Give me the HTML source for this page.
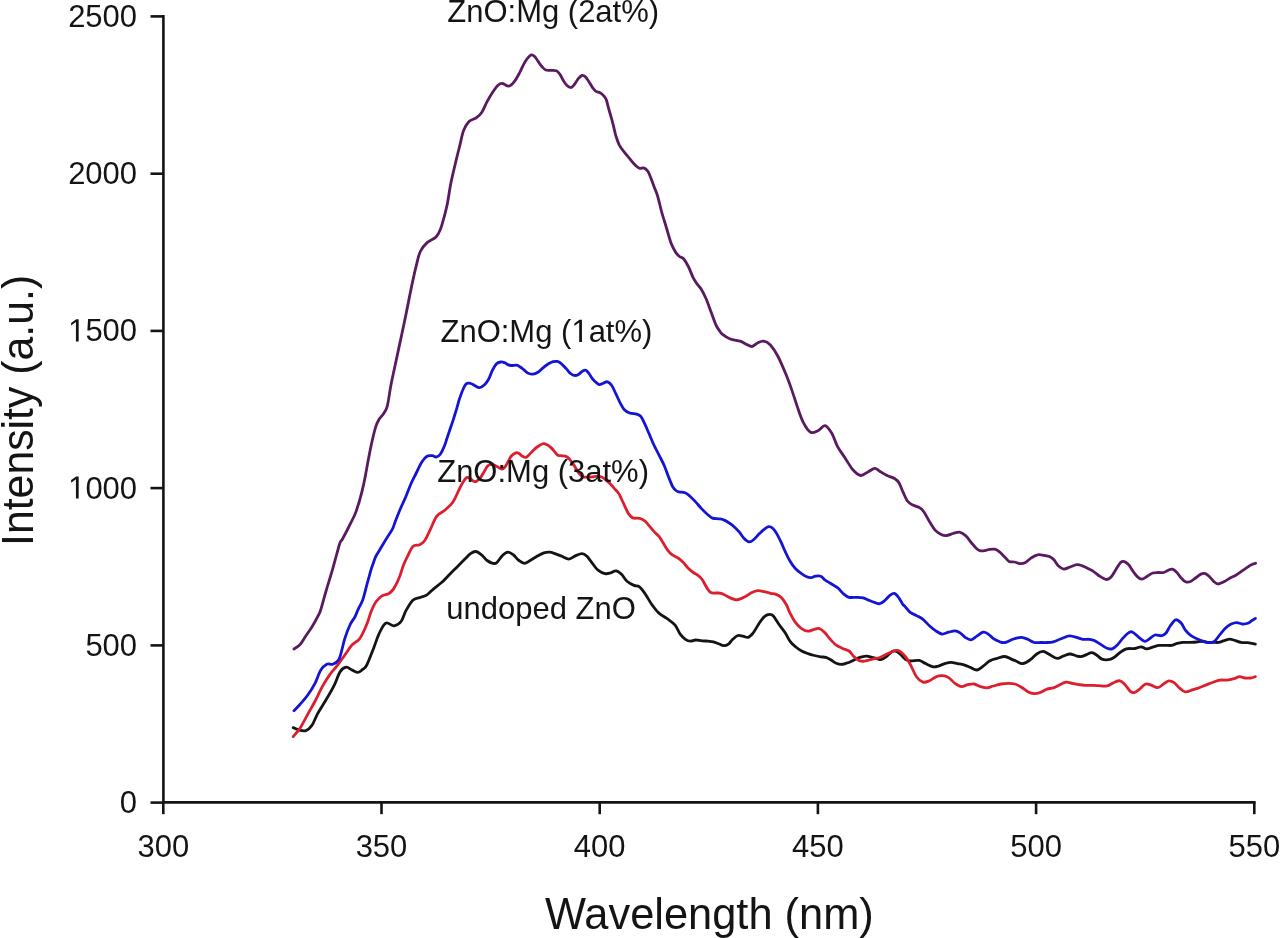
<!DOCTYPE html><html><head><meta charset="utf-8"><style>html,body{margin:0;padding:0;background:#fff;}svg{display:block;filter:blur(0.75px);}text{font-family:"Liberation Sans",sans-serif;fill:#141414;}</style></head><body>
<svg width="1280" height="938" viewBox="0 0 1280 938">
<rect width="1280" height="938" fill="#fff"/>
<g stroke="#141414" stroke-width="2.6" fill="none" stroke-linecap="butt">
<path d="M163.4 15.1V803.7M162.1 802.4H1255.6"/>
<path d="M150.5 16.4H163.4"/>
<path d="M150.5 173.7H163.4"/>
<path d="M150.5 330.9H163.4"/>
<path d="M150.5 488.1H163.4"/>
<path d="M150.5 645.4H163.4"/>
<path d="M150.5 802.6H163.4"/>
<path d="M163.3 802.4V814.2"/>
<path d="M381.5 802.4V814.2"/>
<path d="M599.7 802.4V814.2"/>
<path d="M817.9 802.4V814.2"/>
<path d="M1036.1 802.4V814.2"/>
<path d="M1254.3 802.4V814.2"/>
</g>
<text transform="translate(68.14 26.90) scale(1 1.035)" font-size="31.0" xml:space="preserve">2500</text>
<text transform="translate(68.14 184.20) scale(1 1.035)" font-size="31.0" xml:space="preserve">2000</text>
<path transform="translate(68.14 341.40) scale(0.01514 -0.01567)" d="M515 0L515 1237L197 1010L197 1180L530 1409L696 1409L696 0Z" fill="#141414"/><text transform="translate(85.38 341.40) scale(1 1.035)" font-size="31.0" xml:space="preserve">500</text>
<path transform="translate(68.14 498.60) scale(0.01514 -0.01567)" d="M515 0L515 1237L197 1010L197 1180L530 1409L696 1409L696 0Z" fill="#141414"/><text transform="translate(85.38 498.60) scale(1 1.035)" font-size="31.0" xml:space="preserve">000</text>
<text transform="translate(85.38 655.90) scale(1 1.035)" font-size="31.0" xml:space="preserve">500</text>
<text transform="translate(119.86 813.10) scale(1 1.035)" font-size="31.0" xml:space="preserve">0</text>
<text transform="translate(137.44 857.20) scale(1 1.035)" font-size="31.0" xml:space="preserve">300</text>
<text transform="translate(355.64 857.20) scale(1 1.035)" font-size="31.0" xml:space="preserve">350</text>
<text transform="translate(573.84 857.20) scale(1 1.035)" font-size="31.0" xml:space="preserve">400</text>
<text transform="translate(792.04 857.20) scale(1 1.035)" font-size="31.0" xml:space="preserve">450</text>
<text transform="translate(1010.24 857.20) scale(1 1.035)" font-size="31.0" xml:space="preserve">500</text>
<text transform="translate(1228.44 857.20) scale(1 1.035)" font-size="31.0" xml:space="preserve">550</text>
<path d="M293.2 727.6C294.1 728.0 296.3 729.4 298.4 729.9C300.5 730.4 303.6 731.4 305.9 730.6C308.1 729.9 309.9 728.3 311.9 725.4C313.9 722.5 315.3 717.9 317.8 713.4C320.3 708.9 324.1 703.2 326.8 698.5C329.6 693.8 332.1 689.6 334.3 685.1C336.5 680.6 338.2 674.6 340.2 671.6C342.2 668.6 344.2 667.5 346.2 667.2C348.2 667.0 350.2 669.2 352.2 670.1C354.2 671.0 356.4 672.5 358.1 672.4C359.8 672.3 361.2 670.6 362.6 669.4C364.1 668.2 365.0 668.6 366.8 665.0C368.6 661.4 371.7 653.1 373.7 648.0C375.7 642.9 376.8 638.4 378.8 634.3C380.8 630.2 383.1 624.6 385.6 623.2C388.2 621.8 391.5 626.1 394.1 625.8C396.7 625.5 399.0 624.1 401.0 621.5C403.0 618.9 404.1 613.9 406.1 610.4C408.1 606.9 410.6 602.3 412.9 600.2C415.2 598.1 417.4 598.5 419.7 597.6C422.0 596.8 424.3 596.5 426.6 595.1C428.9 593.7 430.8 591.2 433.4 589.1C435.9 587.0 439.4 584.5 441.9 582.3C444.4 580.1 445.9 578.2 448.3 575.7C450.8 573.2 453.8 570.2 456.6 567.4C459.4 564.6 462.6 561.4 464.9 559.1C467.2 556.8 468.6 554.9 470.5 553.6C472.4 552.3 474.1 551.3 476.0 551.5C477.9 551.7 479.8 553.4 481.6 554.9C483.5 556.4 485.2 559.1 487.1 560.5C489.0 561.9 491.1 562.9 492.7 563.3C494.3 563.6 495.2 563.9 496.8 562.6C498.4 561.3 500.5 557.3 502.4 555.6C504.2 553.9 506.1 552.3 507.9 552.2C509.7 552.1 511.5 553.5 513.4 554.9C515.2 556.3 517.1 559.1 519.0 560.5C520.9 561.9 522.6 563.3 524.5 563.3C526.4 563.3 528.0 561.7 530.1 560.5C532.2 559.3 534.7 557.6 537.0 556.3C539.3 555.0 541.8 553.6 543.9 552.9C546.0 552.2 547.6 552.1 549.5 552.2C551.4 552.3 552.9 552.9 555.0 553.6C557.1 554.3 559.6 555.4 561.9 556.3C564.2 557.2 566.6 559.2 568.9 559.1C571.2 559.0 573.6 556.5 575.8 555.6C578.0 554.7 580.1 553.5 582.0 553.6C583.9 553.7 585.2 554.7 586.9 556.3C588.6 557.9 590.5 561.0 592.4 563.3C594.2 565.6 595.9 568.5 598.0 570.2C600.1 571.9 602.8 573.1 604.9 573.6C607.0 574.1 608.5 573.5 610.4 573.0C612.2 572.5 614.1 570.7 616.0 570.9C617.9 571.1 619.7 572.6 621.5 574.3C623.3 576.0 624.9 579.4 627.0 581.3C629.1 583.1 631.9 584.5 634.0 585.4C636.1 586.3 637.6 585.4 639.5 586.8C641.4 588.2 643.0 590.7 645.1 593.7C647.2 596.7 649.7 601.6 652.0 604.8C654.3 608.0 656.4 610.8 658.9 613.1C661.4 615.4 664.5 616.7 667.2 618.7C669.9 620.7 672.9 622.6 675.1 625.2C677.3 627.8 678.5 631.9 680.2 634.2C681.9 636.6 683.7 638.1 685.4 639.3C687.1 640.5 688.8 641.1 690.5 641.2C692.2 641.3 693.7 640.1 695.6 640.0C697.5 639.9 699.9 640.6 702.0 640.8C704.1 641.0 706.5 641.0 708.4 641.2C710.3 641.4 711.8 641.5 713.5 641.9C715.2 642.3 716.9 643.2 718.6 643.8C720.3 644.4 722.0 645.7 723.7 645.7C725.4 645.7 727.3 644.9 728.8 643.8C730.3 642.7 731.2 640.7 732.7 639.3C734.2 637.9 736.1 636.0 737.8 635.5C739.5 635.0 741.2 635.8 742.9 636.1C744.6 636.4 746.3 637.9 748.0 637.4C749.7 636.9 751.3 635.3 753.2 632.9C755.1 630.5 757.6 625.5 759.5 622.7C761.4 619.9 763.0 617.7 764.7 616.3C766.4 614.9 768.3 614.4 769.8 614.4C771.3 614.4 772.1 614.7 773.6 616.3C775.1 617.9 776.8 621.3 778.7 624.0C780.6 626.7 783.1 629.6 785.0 632.5C786.9 635.4 788.4 639.1 790.1 641.4C791.8 643.7 793.3 644.9 795.2 646.5C797.1 648.1 799.5 649.8 801.6 651.0C803.7 652.2 805.9 652.9 808.0 653.6C810.1 654.4 812.3 655.0 814.4 655.5C816.5 656.0 818.9 656.5 820.8 656.8C822.7 657.1 824.2 656.9 825.9 657.4C827.6 657.9 829.4 659.0 831.1 660.0C832.8 661.0 834.5 662.5 836.2 663.2C837.9 663.9 839.6 664.4 841.3 664.4C843.0 664.4 844.7 663.7 846.4 663.2C848.1 662.7 849.8 662.0 851.5 661.2C853.2 660.5 854.9 659.4 856.6 658.7C858.3 658.0 860.1 657.2 861.8 656.8C863.5 656.4 865.2 656.0 866.9 656.1C868.6 656.2 870.3 657.0 872.0 657.4C873.7 657.8 875.6 658.3 877.1 658.7C878.6 659.1 879.4 659.9 880.9 659.6C882.4 659.3 884.4 658.0 886.1 656.8C887.8 655.6 889.7 653.3 891.2 652.3C892.7 651.3 893.5 650.7 895.0 651.0C896.5 651.3 898.3 652.6 900.0 654.0C901.7 655.4 903.4 657.9 905.1 659.1C906.8 660.3 907.9 660.8 910.2 661.0C912.6 661.2 916.6 660.0 919.2 660.4C921.8 660.8 923.2 662.5 925.6 663.6C928.0 664.7 931.2 666.4 933.3 666.8C935.4 667.2 936.5 666.6 938.4 666.1C940.3 665.6 942.7 664.2 944.8 663.6C946.9 663.0 949.1 662.3 951.2 662.3C953.3 662.3 955.5 663.2 957.6 663.6C959.7 664.0 961.9 664.2 964.0 664.8C966.1 665.4 968.3 666.5 970.4 667.4C972.5 668.3 974.7 670.2 976.8 670.0C978.9 669.8 981.1 667.6 983.2 666.1C985.3 664.6 987.2 662.3 989.5 661.0C991.8 659.7 994.6 659.1 997.2 658.4C999.8 657.6 1002.5 656.4 1004.9 656.5C1007.2 656.6 1009.4 658.4 1011.3 659.1C1013.1 659.9 1014.1 660.2 1016.0 661.0C1017.9 661.8 1020.3 663.8 1022.7 663.6C1025.1 663.4 1028.1 661.3 1030.4 659.7C1032.7 658.1 1034.6 655.4 1036.7 654.0C1038.8 652.6 1041.0 651.3 1043.1 651.4C1045.2 651.5 1047.2 653.4 1049.5 654.6C1051.8 655.8 1054.9 658.2 1057.2 658.4C1059.5 658.6 1061.5 656.6 1063.6 655.9C1065.7 655.2 1067.9 654.0 1070.0 654.0C1072.1 654.0 1074.5 655.5 1076.4 655.9C1078.3 656.3 1079.8 656.7 1081.5 656.5C1083.2 656.3 1084.9 655.2 1086.6 654.6C1088.3 654.0 1090.1 652.6 1091.8 652.7C1093.5 652.8 1095.2 654.1 1096.9 655.2C1098.6 656.3 1100.1 658.4 1102.0 659.1C1103.9 659.9 1106.5 659.9 1108.4 659.7C1110.3 659.5 1111.6 659.0 1113.5 657.8C1115.4 656.6 1117.8 654.2 1119.9 652.7C1122.0 651.2 1123.8 649.5 1126.3 648.8C1128.8 648.1 1132.5 648.8 1135.0 648.5C1137.5 648.2 1139.2 646.7 1141.1 646.8C1143.0 646.9 1144.5 648.9 1146.6 648.9C1148.7 648.9 1151.5 647.4 1153.6 646.8C1155.7 646.2 1157.0 645.6 1159.1 645.4C1161.2 645.2 1163.9 645.4 1166.0 645.4C1168.1 645.4 1169.8 645.7 1171.6 645.4C1173.4 645.1 1175.2 643.9 1177.1 643.4C1178.9 642.9 1180.6 642.6 1182.7 642.4C1184.8 642.2 1187.3 642.5 1189.6 642.4C1191.9 642.3 1194.4 642.2 1196.5 642.0C1198.6 641.8 1200.2 641.2 1202.1 641.3C1203.9 641.4 1205.8 642.2 1207.6 642.4C1209.4 642.6 1211.3 642.4 1213.2 642.4C1215.1 642.4 1216.9 642.7 1218.7 642.4C1220.5 642.1 1222.4 641.1 1224.2 640.6C1226.0 640.1 1228.0 639.2 1229.8 639.2C1231.6 639.2 1233.4 640.1 1235.3 640.6C1237.2 641.1 1238.8 642.0 1240.9 642.4C1243.0 642.8 1246.0 642.5 1247.8 642.7C1249.6 642.9 1250.7 643.2 1252.0 643.4C1253.3 643.6 1254.8 644.0 1255.4 644.1" fill="none" stroke="#141414" stroke-width="2.8" stroke-linejoin="round" stroke-linecap="round"/>
<path d="M293.2 736.6C294.3 735.2 297.5 732.0 299.9 728.4C302.3 724.8 304.9 719.4 307.4 714.9C309.9 710.4 312.4 706.2 314.9 701.5C317.4 696.8 319.8 691.1 322.3 686.6C324.8 682.1 327.3 678.1 329.8 674.6C332.3 671.1 334.7 668.9 337.2 665.7C339.7 662.5 342.2 658.7 344.7 655.2C347.2 651.7 349.7 647.5 352.2 644.8C354.7 642.1 357.2 642.2 359.6 638.8C362.0 635.4 364.8 629.1 366.7 624.5C368.6 619.9 369.8 614.9 371.3 611.1C372.9 607.3 374.2 604.3 376.0 601.8C377.8 599.3 379.8 597.3 381.9 595.9C384.0 594.5 386.9 594.7 388.9 593.5C390.8 592.3 391.8 591.6 393.6 588.9C395.4 586.2 397.9 581.1 399.5 577.1C401.1 573.1 402.1 568.5 403.5 565.0C404.9 561.5 406.2 558.9 407.8 555.8C409.4 552.7 410.9 548.4 412.9 546.5C414.9 544.6 417.7 545.7 419.7 544.7C421.7 543.7 423.1 542.9 424.8 540.5C426.5 538.1 428.0 534.2 430.0 530.2C432.0 526.2 434.2 519.7 436.6 516.4C439.1 513.1 442.0 512.7 444.7 510.3C447.4 507.9 450.4 505.6 452.8 502.2C455.2 498.8 457.3 493.2 458.9 490.0C460.5 486.8 461.2 485.1 462.5 483.0C463.8 480.9 465.4 478.2 466.7 477.5C468.0 476.8 469.2 478.1 470.5 478.8C471.8 479.5 473.1 481.8 474.7 481.7C476.2 481.6 478.2 480.0 479.8 478.4C481.4 476.8 482.7 474.1 484.0 472.0C485.3 469.9 486.4 467.1 487.8 465.8C489.2 464.5 491.0 464.3 492.5 464.4C494.0 464.5 495.4 465.7 497.0 466.5C498.6 467.3 500.6 469.1 501.9 469.2C503.2 469.3 503.9 468.3 505.0 467.0C506.1 465.7 507.2 463.1 508.3 461.2C509.4 459.3 510.3 457.2 511.6 455.8C512.9 454.4 514.6 453.2 515.9 452.8C517.2 452.4 518.1 453.0 519.2 453.6C520.3 454.2 521.4 455.7 522.5 456.3C523.6 456.9 524.7 457.7 525.8 457.4C526.9 457.1 527.8 455.9 529.1 454.7C530.4 453.5 532.0 451.7 533.4 450.3C534.8 448.9 536.1 447.6 537.8 446.5C539.4 445.4 541.7 443.9 543.3 443.7C544.9 443.5 546.2 444.4 547.6 445.1C549.0 445.8 550.2 446.9 551.5 448.1C552.8 449.3 554.2 451.3 555.3 452.5C556.4 453.7 556.8 454.6 558.0 455.2C559.2 455.8 561.0 455.6 562.4 455.8C563.8 456.0 565.0 455.9 566.2 456.5C567.4 457.1 568.5 458.1 569.5 459.1C570.5 460.2 571.3 461.6 572.2 462.8C573.1 464.0 573.7 464.7 574.8 466.4C575.9 468.1 577.4 471.3 578.7 473.0C580.0 474.7 581.1 476.1 582.5 476.8C583.9 477.5 585.3 477.1 586.9 477.1C588.5 477.1 590.5 477.0 592.3 476.8C594.1 476.6 596.1 476.1 597.8 476.2C599.4 476.3 600.7 476.6 602.2 477.3C603.7 478.0 605.2 479.5 606.6 480.6C608.0 481.7 609.1 482.6 610.4 483.9C611.7 485.2 612.8 486.8 614.2 488.3C615.6 489.9 617.4 491.3 618.6 493.2C619.9 495.1 620.6 497.2 621.7 499.5C622.8 501.8 624.0 504.4 625.1 506.8C626.2 509.2 627.2 511.8 628.5 513.6C629.8 515.5 630.9 517.1 632.8 517.9C634.6 518.7 637.6 517.8 639.6 518.3C641.6 518.8 643.1 519.7 644.7 520.9C646.3 522.1 647.4 523.8 649.0 525.6C650.6 527.4 652.4 529.8 654.1 531.6C655.8 533.5 657.6 534.7 659.2 536.7C660.8 538.7 662.1 541.2 663.5 543.5C664.9 545.8 666.4 548.4 667.8 550.3C669.2 552.1 670.3 553.3 672.0 554.6C673.7 555.9 676.1 556.7 678.0 558.0C679.9 559.3 681.4 560.6 683.1 562.3C684.8 564.0 686.5 566.5 688.2 568.2C689.9 569.9 691.8 571.4 693.3 572.5C694.8 573.6 696.0 573.9 697.5 575.0C699.0 576.1 700.4 577.0 702.0 579.2C703.6 581.4 705.6 585.9 707.1 588.1C708.6 590.3 709.4 591.8 710.9 592.6C712.4 593.4 714.4 592.9 716.1 593.0C717.8 593.1 719.5 592.8 721.2 593.3C722.9 593.8 724.6 594.9 726.3 595.8C728.0 596.6 729.7 597.7 731.4 598.4C733.1 599.1 734.8 599.9 736.5 599.9C738.2 599.9 739.9 599.1 741.6 598.4C743.3 597.7 745.2 596.7 746.8 595.8C748.4 594.9 749.6 593.7 751.4 592.8C753.2 591.9 755.7 590.8 757.8 590.6C759.9 590.4 762.1 591.2 764.2 591.7C766.3 592.2 768.7 592.8 770.6 593.3C772.5 593.8 774.1 593.7 775.9 594.4C777.7 595.1 779.5 595.8 781.3 597.5C783.0 599.2 784.9 602.2 786.4 604.8C787.9 607.4 788.6 610.4 790.1 613.3C791.6 616.2 793.3 619.7 795.2 622.2C797.1 624.8 799.5 627.1 801.6 628.6C803.7 630.1 805.9 631.1 808.0 631.2C810.1 631.3 812.5 629.7 814.4 629.3C816.3 628.9 817.8 628.1 819.5 628.6C821.2 629.1 823.0 630.8 824.7 632.5C826.4 634.2 827.9 636.7 829.8 638.8C831.7 640.9 834.1 643.6 836.2 645.2C838.3 646.8 840.5 647.4 842.6 648.4C844.7 649.4 847.1 649.6 849.0 651.0C850.9 652.4 852.4 655.2 854.1 656.8C855.8 658.4 857.5 659.9 859.2 660.6C860.9 661.3 862.6 661.3 864.3 661.2C866.0 661.1 867.7 660.4 869.4 660.0C871.1 659.6 872.7 659.1 874.5 658.7C876.3 658.3 877.8 658.4 880.0 657.5C882.2 656.6 885.3 654.7 888.0 653.5C890.7 652.3 894.3 650.8 896.3 650.4C898.3 650.0 898.3 650.2 900.0 651.4C901.7 652.6 904.5 655.2 906.4 657.8C908.3 660.4 909.8 663.6 911.5 666.8C913.2 670.0 914.7 674.5 916.6 677.0C918.5 679.5 920.9 681.5 923.0 682.1C925.1 682.7 927.3 681.6 929.4 680.8C931.5 679.9 933.7 677.9 935.8 677.0C937.9 676.1 940.1 675.6 942.2 675.7C944.3 675.8 946.5 676.3 948.6 677.6C950.7 678.9 952.9 681.9 955.0 683.4C957.1 684.9 959.3 686.4 961.4 686.6C963.5 686.8 965.7 685.1 967.8 684.7C969.9 684.3 972.1 683.7 974.2 684.0C976.3 684.3 978.5 686.0 980.6 686.6C982.7 687.2 984.9 688.0 987.0 687.9C989.1 687.8 991.0 686.6 993.4 686.0C995.8 685.4 998.5 684.4 1001.1 684.0C1003.7 683.6 1006.4 683.4 1008.7 683.4C1011.0 683.4 1013.0 683.4 1015.1 684.0C1017.2 684.6 1019.3 685.9 1021.4 687.2C1023.5 688.5 1025.7 690.6 1027.8 691.7C1029.9 692.8 1032.1 693.5 1034.2 693.6C1036.3 693.7 1038.5 693.0 1040.6 692.3C1042.7 691.5 1044.9 689.8 1047.0 689.1C1049.1 688.4 1051.3 688.6 1053.4 687.9C1055.5 687.2 1057.7 685.7 1059.8 684.7C1061.9 683.7 1064.1 682.3 1066.2 682.1C1068.3 681.9 1070.5 683.0 1072.6 683.4C1074.7 683.8 1076.9 684.4 1079.0 684.7C1081.1 685.0 1083.3 685.2 1085.4 685.3C1087.5 685.4 1089.7 685.2 1091.8 685.3C1093.9 685.4 1095.7 685.6 1098.2 685.7C1100.8 685.8 1104.5 686.4 1107.1 685.9C1109.6 685.4 1111.4 683.6 1113.5 682.7C1115.6 681.9 1118.0 680.5 1119.9 680.8C1121.8 681.1 1123.3 683.0 1125.0 684.7C1126.7 686.4 1128.6 689.8 1130.1 691.1C1131.6 692.4 1132.6 692.9 1134.2 692.6C1135.8 692.3 1137.9 690.5 1139.7 689.1C1141.5 687.7 1143.4 684.9 1145.2 684.2C1147.0 683.5 1148.7 684.3 1150.8 684.9C1152.9 685.5 1155.6 687.8 1157.7 687.7C1159.8 687.6 1161.5 685.4 1163.3 684.2C1165.1 683.1 1166.9 681.0 1168.8 680.8C1170.7 680.6 1172.6 681.6 1174.4 682.9C1176.2 684.2 1178.1 686.9 1179.9 688.4C1181.7 689.9 1183.3 691.7 1185.4 691.9C1187.5 692.1 1190.1 690.5 1192.4 689.8C1194.7 689.1 1197.0 688.5 1199.3 687.7C1201.6 686.9 1203.9 685.8 1206.2 684.9C1208.5 684.0 1210.9 683.0 1213.2 682.2C1215.5 681.4 1217.8 680.5 1220.1 680.1C1222.4 679.8 1224.7 680.3 1227.0 680.1C1229.3 679.9 1231.9 679.3 1234.0 678.7C1236.1 678.1 1237.7 676.7 1239.5 676.6C1241.3 676.5 1243.2 677.8 1245.0 678.0C1246.8 678.2 1248.9 678.2 1250.6 678.0C1252.3 677.8 1254.6 676.8 1255.4 676.6" fill="none" stroke="#dc1e2d" stroke-width="2.8" stroke-linejoin="round" stroke-linecap="round"/>
<path d="M294.0 710.7C295.0 709.7 297.7 707.0 299.9 704.5C302.1 702.0 304.9 699.0 307.4 695.5C309.9 692.0 312.7 687.8 314.9 683.6C317.1 679.4 318.8 673.3 320.8 670.1C322.8 666.9 324.8 665.2 326.8 664.2C328.8 663.2 330.8 665.0 332.8 664.2C334.8 663.5 337.2 662.0 338.7 659.7C340.2 657.5 340.7 654.2 341.7 650.7C342.7 647.2 343.3 643.2 344.7 638.8C346.1 634.4 348.5 628.1 350.2 624.5C351.9 620.9 353.5 619.6 354.9 617.0C356.3 614.4 357.2 611.3 358.4 608.8C359.6 606.3 361.0 604.1 362.0 601.8C363.0 599.4 363.5 597.5 364.3 594.7C365.1 592.0 365.9 588.2 366.7 585.3C367.5 582.4 368.2 579.8 369.0 577.1C369.8 574.4 370.5 571.4 371.3 568.9C372.1 566.4 372.9 564.0 373.7 561.9C374.5 559.8 375.0 558.0 376.0 556.0C377.0 554.0 377.7 553.1 379.5 550.2C381.3 547.3 384.5 541.9 386.6 538.4C388.8 534.9 391.0 531.8 392.4 529.1C393.8 526.4 393.7 525.6 395.0 522.3C396.3 518.9 398.5 513.2 400.3 509.0C402.1 504.8 403.9 501.2 405.7 497.0C407.5 492.8 409.2 487.7 411.0 483.7C412.8 479.7 414.5 476.6 416.3 473.0C418.1 469.4 419.9 465.1 421.7 462.3C423.5 459.5 425.2 457.4 427.0 456.3C428.8 455.2 430.8 455.6 432.3 455.7C433.9 455.8 435.0 457.2 436.3 457.0C437.6 456.8 439.0 456.1 440.3 454.3C441.6 452.5 443.2 449.0 444.3 446.3C445.4 443.6 446.1 441.0 447.0 438.3C447.9 435.6 448.6 433.6 449.7 430.3C450.8 427.0 452.5 422.1 453.7 418.3C454.9 414.5 456.1 410.8 457.0 407.7C457.9 404.6 458.2 402.8 459.2 399.8C460.2 396.8 461.8 392.2 463.0 389.5C464.2 386.8 464.9 384.8 466.2 383.8C467.5 382.8 469.3 383.2 470.7 383.5C472.1 383.8 473.0 384.7 474.5 385.4C476.0 386.1 477.9 387.8 479.6 387.6C481.3 387.4 483.3 385.8 484.8 384.4C486.3 383.0 487.3 381.6 488.6 379.3C489.9 377.0 491.1 372.9 492.4 370.3C493.7 367.8 494.9 365.4 496.3 364.0C497.7 362.6 499.3 362.2 500.7 362.0C502.1 361.8 503.4 362.3 504.6 362.7C505.8 363.1 506.6 364.1 507.8 364.6C509.0 365.1 510.1 365.4 511.6 365.5C513.1 365.6 515.3 364.9 516.7 365.2C518.1 365.4 519.0 366.2 520.2 367.0C521.4 367.8 522.5 368.7 523.8 369.7C525.0 370.7 526.2 372.1 527.7 372.9C529.2 373.6 531.1 374.3 532.8 374.2C534.5 374.1 536.2 373.4 537.9 372.3C539.6 371.2 541.3 369.2 543.0 367.8C544.7 366.4 546.4 365.0 548.1 364.0C549.8 363.0 551.7 362.1 553.2 361.7C554.7 361.3 555.8 361.1 557.1 361.4C558.4 361.7 559.4 362.1 560.9 363.3C562.4 364.5 564.4 366.7 566.0 368.4C567.6 370.1 569.0 372.3 570.5 373.5C572.0 374.7 573.6 375.4 575.0 375.5C576.4 375.6 577.5 374.9 578.8 374.2C580.1 373.4 581.5 371.6 582.7 371.0C583.9 370.4 584.9 369.9 585.9 370.3C586.9 370.7 587.9 372.1 589.0 373.5C590.1 374.9 591.3 377.4 592.3 378.7C593.3 380.0 593.9 380.5 595.0 381.5C596.1 382.5 597.8 384.3 599.2 384.6C600.6 384.9 601.9 383.7 603.3 383.2C604.7 382.7 606.1 381.4 607.5 381.8C608.9 382.2 610.2 383.3 611.6 385.3C613.0 387.3 614.4 390.7 615.8 393.6C617.2 396.5 618.6 400.0 620.0 402.6C621.4 405.2 622.5 407.8 624.1 409.5C625.7 411.2 627.6 412.2 629.7 413.0C631.8 413.8 634.8 413.5 636.6 414.1C638.5 414.7 639.4 414.7 640.8 416.4C642.2 418.1 643.5 421.2 644.9 424.1C646.3 427.0 647.7 430.6 649.1 433.8C650.5 437.0 651.6 440.0 653.2 443.5C654.8 447.0 656.9 450.9 658.8 454.6C660.6 458.3 662.7 462.0 664.3 465.7C665.9 469.4 667.1 473.3 668.5 476.8C669.9 480.3 671.4 484.2 672.6 486.5C673.9 488.8 674.9 489.6 676.0 490.5C677.1 491.4 677.5 491.5 679.0 491.9C680.5 492.3 683.2 492.1 684.9 492.7C686.6 493.3 687.6 494.2 689.4 495.7C691.1 497.2 693.4 499.5 695.4 501.6C697.4 503.7 699.3 506.3 701.3 508.4C703.3 510.5 705.4 512.7 707.3 514.3C709.2 515.9 710.6 517.4 712.5 518.1C714.4 518.9 716.6 518.5 718.5 518.8C720.4 519.1 721.8 519.1 723.7 519.9C725.6 520.6 727.8 522.0 729.7 523.3C731.6 524.5 733.3 525.9 734.9 527.4C736.5 528.9 737.9 530.4 739.4 532.2C740.9 534.0 742.3 536.6 743.9 538.2C745.5 539.8 747.5 541.6 749.1 541.9C750.7 542.1 751.9 541.1 753.6 539.7C755.3 538.3 757.7 535.2 759.5 533.5C761.3 531.8 762.7 530.4 764.2 529.3C765.7 528.2 767.1 526.9 768.5 526.7C769.9 526.5 771.3 527.1 772.7 528.3C774.1 529.5 775.6 531.7 777.0 534.1C778.4 536.5 779.9 539.7 781.3 542.7C782.7 545.7 784.1 549.2 785.5 552.2C786.9 555.2 788.2 558.1 789.8 560.8C791.4 563.5 793.1 566.1 795.1 568.2C797.1 570.3 799.5 572.2 801.5 573.6C803.5 575.0 805.2 576.1 806.8 576.8C808.4 577.5 809.7 577.7 811.1 577.6C812.5 577.5 813.8 576.4 815.4 576.2C817.0 576.0 819.1 575.6 820.7 576.2C822.3 576.8 823.4 578.8 825.0 580.0C826.6 581.2 828.2 581.9 830.3 583.2C832.4 584.5 835.2 585.9 837.5 587.7C839.8 589.5 841.9 592.5 843.8 594.1C845.7 595.7 846.9 596.8 849.0 597.3C851.1 597.8 854.3 597.2 856.6 597.3C858.9 597.4 860.9 597.4 863.0 597.9C865.1 598.4 867.5 599.8 869.4 600.5C871.3 601.2 872.8 601.9 874.5 602.4C876.2 602.9 878.0 604.0 879.7 603.7C881.4 603.4 883.1 601.9 884.8 600.5C886.5 599.1 888.3 596.6 889.9 595.4C891.5 594.2 892.9 593.0 894.4 593.4C895.9 593.8 897.5 596.1 898.9 597.9C900.3 599.7 901.7 602.8 902.7 604.3C903.7 605.8 903.9 605.2 905.1 606.6C906.4 608.0 908.3 610.9 910.2 612.4C912.1 613.9 914.5 614.4 916.6 615.6C918.7 616.8 920.9 617.7 923.0 619.4C925.1 621.1 927.3 623.9 929.4 625.8C931.5 627.7 933.7 629.5 935.8 630.9C937.9 632.3 940.1 633.9 942.2 634.1C944.3 634.3 946.5 632.7 948.6 632.2C950.7 631.7 953.1 630.8 955.0 630.9C956.9 631.0 958.4 631.8 960.1 632.9C961.8 634.0 963.4 636.1 965.2 637.3C967.0 638.5 969.1 640.1 971.0 639.9C972.9 639.7 974.8 637.4 976.8 636.1C978.8 634.8 981.3 632.5 983.2 632.2C985.1 631.9 986.6 633.0 988.3 634.1C990.0 635.2 991.5 637.3 993.4 638.6C995.3 639.9 997.9 641.1 999.8 641.8C1001.7 642.4 1003.0 642.8 1004.9 642.5C1006.8 642.2 1009.6 640.5 1011.3 639.9C1013.0 639.2 1013.3 639.0 1015.0 638.6C1016.7 638.2 1019.3 637.2 1021.4 637.3C1023.5 637.4 1025.7 638.4 1027.8 639.3C1029.9 640.2 1032.1 642.0 1034.2 642.5C1036.3 643.0 1038.5 642.5 1040.6 642.5C1042.7 642.5 1044.9 642.6 1047.0 642.5C1049.1 642.4 1051.3 642.3 1053.4 641.8C1055.5 641.3 1057.7 640.1 1059.8 639.3C1061.9 638.4 1064.5 637.3 1066.2 636.7C1067.9 636.1 1068.3 635.7 1070.0 635.8C1071.7 635.9 1074.3 636.7 1076.4 637.3C1078.5 637.9 1080.7 639.0 1082.8 639.3C1084.9 639.6 1087.3 639.1 1089.2 639.3C1091.1 639.5 1092.4 639.6 1094.3 640.5C1096.2 641.4 1098.6 643.1 1100.7 644.4C1102.8 645.7 1105.2 647.5 1107.1 648.2C1109.0 648.9 1110.5 649.3 1112.2 648.8C1113.9 648.3 1115.6 646.7 1117.3 645.0C1119.0 643.3 1120.8 640.5 1122.5 638.6C1124.2 636.7 1126.1 634.7 1127.6 633.5C1129.1 632.3 1130.1 631.5 1131.4 631.6C1132.7 631.8 1133.9 633.1 1135.5 634.4C1137.1 635.7 1139.5 638.1 1141.1 639.2C1142.7 640.4 1143.6 641.5 1145.2 641.3C1146.8 641.1 1149.2 638.8 1150.8 637.8C1152.4 636.8 1153.1 635.4 1154.9 635.0C1156.8 634.6 1160.1 636.0 1161.9 635.7C1163.8 635.4 1164.6 634.6 1166.0 633.0C1167.4 631.4 1168.6 628.2 1170.2 626.0C1171.8 623.8 1173.9 620.2 1175.7 619.8C1177.5 619.3 1179.7 621.6 1181.3 623.3C1182.9 625.0 1183.8 628.1 1185.4 630.2C1187.0 632.3 1188.9 634.2 1191.0 635.7C1193.1 637.2 1195.8 638.3 1197.9 639.2C1200.0 640.1 1201.7 640.7 1203.5 641.3C1205.3 641.9 1207.2 642.7 1209.0 642.7C1210.8 642.7 1212.7 642.7 1214.5 641.3C1216.3 639.9 1218.2 636.6 1220.1 634.4C1221.9 632.2 1223.8 629.8 1225.6 628.1C1227.4 626.4 1229.3 624.9 1231.2 624.0C1233.1 623.1 1234.9 622.6 1236.7 622.6C1238.5 622.6 1240.5 623.9 1242.3 624.0C1244.1 624.1 1246.2 623.9 1247.8 623.3C1249.4 622.7 1250.7 621.3 1252.0 620.5C1253.3 619.7 1254.8 618.8 1255.4 618.4" fill="none" stroke="#1414d4" stroke-width="2.8" stroke-linejoin="round" stroke-linecap="round"/>
<path d="M294.0 649.0C295.0 648.3 297.9 647.0 299.9 644.8C301.9 642.6 303.9 638.8 305.9 635.8C307.9 632.8 309.9 630.1 311.9 626.9C313.9 623.7 316.4 619.2 317.8 616.4C319.2 613.6 319.2 614.5 320.6 610.2C322.0 605.9 324.1 597.5 326.2 590.5C328.2 583.5 330.7 575.9 332.9 568.1C335.1 560.4 338.1 548.8 339.6 544.0C341.2 539.2 340.8 542.1 342.2 539.5C343.6 536.9 345.9 532.7 348.0 528.5C350.1 524.3 353.3 518.1 354.9 514.5C356.5 510.9 356.8 509.2 357.5 507.0C358.2 504.8 358.2 505.4 359.3 501.5C360.4 497.6 362.3 490.6 363.8 483.6C365.3 476.6 367.1 466.2 368.3 459.7C369.6 453.2 370.1 450.3 371.3 444.8C372.5 439.3 374.4 431.1 375.7 426.9C377.0 422.7 377.8 421.6 379.0 419.5C380.2 417.4 381.9 416.1 383.2 414.3C384.4 412.5 385.6 410.7 386.5 408.5C387.4 406.3 387.5 405.1 388.3 401.0C389.1 396.9 389.6 391.9 391.2 383.8C392.8 375.7 395.7 362.9 397.9 352.4C400.1 341.9 402.4 331.8 404.6 321.0C406.9 310.2 409.5 296.4 411.4 287.4C413.3 278.4 414.4 273.2 415.9 267.2C417.4 261.2 418.4 255.6 420.3 251.5C422.2 247.4 424.5 245.0 427.1 242.6C429.7 240.2 433.8 239.2 436.0 237.0C438.2 234.8 439.2 232.3 440.5 229.1C441.8 225.9 442.8 222.0 443.9 217.9C445.0 213.8 446.0 210.3 447.2 204.5C448.4 198.7 449.4 190.6 450.9 183.1C452.4 175.6 454.8 165.9 456.3 159.6C457.8 153.3 458.7 149.9 459.9 145.1C461.1 140.3 462.1 134.5 463.6 130.6C465.1 126.7 466.9 123.6 469.0 121.5C471.1 119.4 474.1 119.4 476.2 117.9C478.3 116.4 479.9 115.2 481.7 112.5C483.5 109.8 485.3 104.9 487.1 101.6C488.9 98.3 490.7 95.2 492.5 92.5C494.3 89.8 496.3 86.8 498.0 85.3C499.7 83.8 500.7 83.3 502.5 83.5C504.3 83.7 506.8 86.5 508.8 86.2C510.8 85.9 512.5 84.0 514.3 81.7C516.1 79.4 517.9 75.9 519.7 72.6C521.5 69.3 523.2 64.6 525.1 61.7C527.0 58.8 529.4 55.8 531.0 55.0C532.6 54.2 533.7 55.7 534.9 56.8C536.1 57.9 537.1 60.0 538.3 61.6C539.4 63.2 540.5 65.1 541.8 66.5C543.1 67.9 544.4 69.4 545.9 70.0C547.4 70.6 549.1 70.2 550.8 70.3C552.5 70.4 554.8 70.1 556.3 70.7C557.8 71.3 558.6 72.5 559.8 74.1C561.0 75.7 562.1 78.6 563.3 80.4C564.4 82.2 565.4 84.0 566.7 85.2C568.0 86.4 569.6 87.7 570.9 87.6C572.2 87.5 573.1 86.0 574.4 84.5C575.7 83.0 577.2 79.8 578.5 78.3C579.8 76.8 580.8 75.7 582.0 75.5C583.2 75.3 584.4 75.9 585.5 76.9C586.6 77.9 587.8 80.0 588.9 81.7C590.0 83.4 591.2 85.7 592.4 87.3C593.6 88.9 594.6 90.5 595.9 91.4C597.2 92.3 598.7 92.1 600.0 92.8C601.3 93.5 602.5 94.4 603.5 95.6C604.5 96.8 605.5 97.7 606.3 99.8C607.1 101.9 607.6 104.8 608.5 108.0C609.4 111.2 610.8 115.9 611.7 119.2C612.6 122.5 613.2 124.8 613.9 127.7C614.6 130.6 615.1 133.5 616.0 136.3C616.9 139.2 618.0 142.3 619.2 144.8C620.5 147.3 621.9 149.1 623.5 151.2C625.1 153.3 627.0 155.5 628.8 157.6C630.6 159.7 632.3 162.2 634.1 164.0C635.9 165.8 637.9 167.7 639.5 168.3C641.1 169.0 642.3 167.4 643.7 167.9C645.1 168.4 646.8 169.7 648.0 171.5C649.2 173.3 650.1 176.2 651.2 178.9C652.3 181.6 653.3 184.7 654.4 187.5C655.5 190.3 656.4 192.1 657.6 196.0C658.8 199.9 660.0 205.8 661.4 211.0C662.8 216.2 664.6 221.7 666.2 227.0C667.8 232.3 669.4 238.7 671.0 243.0C672.6 247.3 674.4 250.3 675.8 252.6C677.2 254.8 678.2 255.4 679.5 256.5C680.8 257.6 682.3 257.2 683.8 259.0C685.3 260.8 687.0 263.8 688.6 267.0C690.2 270.2 691.9 275.3 693.4 278.2C694.9 281.1 696.2 282.6 697.5 284.5C698.8 286.4 699.9 287.0 701.4 289.4C702.9 291.8 704.6 295.3 706.2 299.0C707.8 302.7 709.4 307.5 711.0 311.8C712.6 316.1 714.5 321.6 715.8 324.6C717.1 327.6 717.9 328.4 719.0 330.0C720.1 331.6 720.3 332.7 722.2 334.2C724.1 335.7 727.2 337.8 730.2 339.0C733.2 340.2 737.5 340.3 740.2 341.2C742.9 342.1 744.6 343.5 746.6 344.4C748.6 345.3 750.2 346.7 752.0 346.5C753.8 346.3 755.6 343.9 757.5 343.0C759.4 342.1 761.5 340.8 763.6 341.1C765.8 341.4 768.0 342.4 770.4 345.0C772.8 347.6 775.5 351.7 778.0 356.5C780.5 361.3 783.5 368.4 785.7 373.8C788.0 379.2 789.6 383.7 791.5 389.1C793.4 394.5 795.3 400.9 797.2 406.4C799.1 411.8 800.8 417.5 803.0 421.8C805.2 426.1 808.1 430.9 810.7 432.3C813.3 433.7 816.0 431.5 818.4 430.4C820.8 429.3 822.9 425.1 825.1 425.6C827.3 426.1 829.7 429.8 831.8 433.3C833.9 436.8 835.4 442.6 837.6 446.7C839.8 450.8 842.7 454.3 845.2 458.2C847.8 462.1 850.3 466.9 852.9 469.8C855.5 472.7 858.0 475.2 860.6 475.5C863.2 475.8 865.9 472.9 868.3 471.7C870.7 470.5 872.9 468.5 874.8 468.4C876.7 468.3 877.7 470.0 879.7 471.2C881.7 472.4 884.1 474.0 886.6 475.3C889.1 476.6 892.8 477.5 894.9 478.8C897.0 480.1 897.7 480.7 899.1 483.0C900.5 485.3 901.9 489.7 903.3 492.7C904.7 495.7 905.8 498.9 907.4 501.0C909.0 503.1 910.9 504.0 913.0 505.1C915.1 506.2 918.1 506.8 919.9 507.9C921.7 509.0 922.4 509.7 924.0 512.0C925.6 514.3 927.8 518.8 929.6 521.8C931.5 524.8 933.2 528.0 935.1 530.1C937.0 532.2 938.9 533.3 940.7 534.2C942.6 535.1 944.1 535.7 946.2 535.6C948.3 535.5 950.9 534.1 953.1 533.5C955.3 532.9 957.3 531.8 959.4 532.1C961.5 532.5 963.6 533.9 965.6 535.6C967.6 537.3 969.4 540.3 971.2 542.5C973.1 544.7 975.1 547.4 976.7 548.8C978.3 550.2 979.2 550.7 980.8 550.9C982.4 551.1 985.0 550.5 986.4 550.2C987.8 550.0 988.0 549.6 989.4 549.4C990.8 549.2 993.2 548.8 994.8 549.2C996.4 549.6 997.6 550.3 999.2 551.6C1000.9 552.9 1003.1 555.4 1004.7 557.0C1006.4 558.6 1007.5 560.6 1009.1 561.4C1010.7 562.2 1012.7 561.6 1014.5 562.0C1016.3 562.4 1018.2 563.5 1020.0 563.6C1021.8 563.7 1023.7 563.4 1025.5 562.5C1027.3 561.6 1028.9 559.4 1030.9 558.1C1032.9 556.8 1035.3 555.2 1037.5 554.8C1039.7 554.3 1042.1 555.1 1044.1 555.4C1046.1 555.7 1047.9 555.8 1049.5 556.5C1051.1 557.2 1052.4 558.2 1053.9 559.8C1055.4 561.3 1056.7 564.2 1058.3 565.8C1059.9 567.3 1061.7 568.9 1063.7 569.1C1065.7 569.3 1068.1 567.6 1070.3 566.9C1072.5 566.2 1074.9 564.9 1076.9 564.7C1078.9 564.5 1080.5 565.2 1082.3 565.8C1084.1 566.4 1086.0 567.6 1087.8 568.5C1089.6 569.4 1091.3 570.0 1093.3 571.3C1095.3 572.6 1097.6 574.8 1099.8 576.2C1102.0 577.6 1104.6 579.3 1106.4 579.5C1108.2 579.7 1109.2 579.0 1110.8 577.3C1112.4 575.6 1114.6 571.6 1116.2 569.1C1117.8 566.6 1119.2 563.8 1120.6 562.5C1122.0 561.2 1123.1 561.2 1124.4 561.6C1125.8 562.0 1127.2 563.2 1128.7 564.8C1130.2 566.4 1131.6 569.4 1133.1 571.4C1134.6 573.4 1136.0 575.6 1137.5 576.9C1139.0 578.2 1140.3 579.2 1141.9 579.1C1143.5 579.0 1145.5 577.3 1147.3 576.3C1149.1 575.3 1151.0 573.6 1152.8 573.0C1154.6 572.4 1156.5 572.6 1158.3 572.5C1160.1 572.4 1162.1 572.9 1163.7 572.5C1165.3 572.1 1166.6 570.8 1168.1 570.3C1169.6 569.8 1171.0 568.8 1172.5 569.2C1174.0 569.6 1175.5 571.0 1176.9 572.5C1178.4 574.0 1179.8 576.5 1181.2 578.0C1182.7 579.5 1184.1 581.2 1185.6 581.8C1187.1 582.4 1188.3 582.4 1190.0 581.8C1191.7 581.2 1193.7 579.3 1195.5 578.0C1197.3 576.7 1199.3 574.8 1200.9 574.1C1202.5 573.4 1203.8 573.1 1205.3 573.6C1206.8 574.1 1208.2 575.5 1209.7 576.9C1211.2 578.3 1212.6 580.6 1214.1 581.8C1215.5 583.0 1216.8 584.0 1218.4 584.0C1220.0 584.0 1222.1 582.7 1223.9 581.8C1225.7 580.9 1227.4 579.6 1229.4 578.5C1231.4 577.4 1233.9 576.4 1235.9 575.2C1237.9 574.0 1239.6 572.7 1241.4 571.4C1243.2 570.1 1245.2 568.7 1246.9 567.6C1248.6 566.5 1249.8 565.5 1251.3 564.8C1252.8 564.1 1254.9 563.5 1255.6 563.2" fill="none" stroke="#5a1a60" stroke-width="2.8" stroke-linejoin="round" stroke-linecap="round"/>
<text transform="translate(447.30 21.50) scale(1 1.040)" font-size="31.0" xml:space="preserve">ZnO:Mg (2at%)</text>
<text transform="translate(440.50 342.00) scale(1 1.040)" font-size="31.0" xml:space="preserve">ZnO:Mg (</text><path transform="translate(571.40 342.00) scale(0.01514 -0.01574)" d="M515 0L515 1237L197 1010L197 1180L530 1409L696 1409L696 0Z" fill="#141414"/><text transform="translate(588.64 342.00) scale(1 1.040)" font-size="31.0" xml:space="preserve">at%)</text>
<text transform="translate(437.20 481.80) scale(1 1.040)" font-size="31.0" xml:space="preserve">ZnO:Mg (3at%)</text>
<text transform="translate(446.30 618.70) scale(1 1.040)" font-size="31.0" xml:space="preserve">undoped ZnO</text>
<text transform="translate(545.00 928.60) scale(1 1.040)" font-size="43.4" xml:space="preserve">Wavelength (nm)</text>
<text transform="translate(32.5 546) rotate(-90) scale(1 1.040)" font-size="42.8">Intensity (a.u.)</text>
</svg></body></html>
